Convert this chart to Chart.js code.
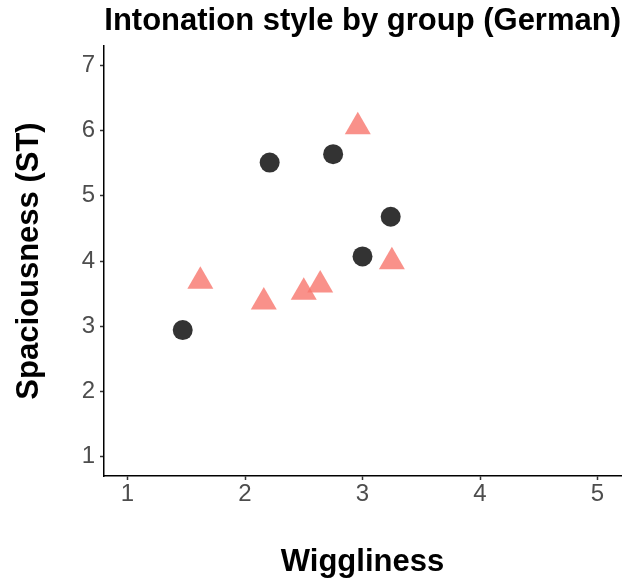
<!DOCTYPE html>
<html>
<head>
<meta charset="utf-8">
<script src="https://cdn.jsdelivr.net/npm/chart.js@4"></script>
<style>
  body { margin: 0; background: #fff; }
  canvas { display: block; }
</style>
</head>
<body>
<canvas id="chart" width="628" height="581"></canvas>
<script>
    const xTicks = [1, 2, 3, 4, 5];
    const yTicks = [1, 2, 3, 4, 5, 6, 7];

    // group drawn as dark circles
    const circleX = [1.47, 2.21, 2.75, 3.24, 3.00];
    const circleY = [2.94, 5.51, 5.64, 4.68, 4.07];

    // group drawn as salmon triangles
    const triX = [1.62, 2.16, 2.50, 2.64, 2.96, 3.25];
    const triY = [3.69, 3.37, 3.52, 3.63, 6.06, 3.99];

    const FONT = "'Liberation Sans', Arial, sans-serif";

    function toPoints(xs, ys) {
        return xs.map(function (x, i) { return { x: x, y: ys[i] }; });
    }

    new Chart(document.getElementById('chart'), {
        type: 'scatter',
        data: {
            datasets: [{
                label: 'Group 1',
                data: toPoints(circleX, circleY),
                pointStyle: 'circle',
                pointRadius: 10,
                pointHoverRadius: 10,
                borderWidth: 0,
                backgroundColor: 'rgba(0, 0, 0, 0.8)'
            }, {
                label: 'Group 2',
                data: toPoints(triX, triY),
                pointStyle: 'triangle',
                pointRadius: 15,
                pointHoverRadius: 15,
                borderWidth: 0,
                backgroundColor: 'rgba(248, 118, 109, 0.8)'
            }]
        },
        options: {
            responsive: false,
            animation: false,
            layout: {
                autoPadding: false,
                padding: { left: 0, right: 7, top: 0, bottom: 0 }
            },
            plugins: {
                legend: { display: false },
                tooltip: { enabled: false },
                title: {
                    display: true,
                    text: 'Intonation style by group (German)',
                    align: 'end',
                    color: '#000',
                    font: { family: FONT, size: 31, weight: 'bold', lineHeight: 1.2 },
                    padding: { top: 2.4, bottom: 6.4 }
                }
            },
            scales: {
                x: {
                    type: 'linear',
                    min: 0.8,
                    max: 5.2,
                    afterBuildTicks: function (scale) {
                        scale.ticks = xTicks.map(function (v) { return { value: v }; });
                    },
                    afterFit: function (scale) {
                        scale.height = 105;
                        scale.paddingLeft = 0;
                        scale.paddingRight = 0;
                    },
                    ticks: {
                        color: '#4d4d4d',
                        padding: 0,
                        font: { family: FONT, size: 24, lineHeight: 1.2 }
                    },
                    grid: {
                        drawOnChartArea: false,
                        drawTicks: true,
                        tickLength: 4,
                        tickColor: '#333',
                        tickWidth: 1.5
                    },
                    border: { display: true, color: '#000', width: 1.5 },
                    title: {
                        display: true,
                        text: 'Wiggliness',
                        color: '#000',
                        font: { family: FONT, size: 31, weight: 'bold', lineHeight: 1.2 },
                        padding: { top: 0, bottom: 0.4 }
                    }
                },
                y: {
                    type: 'linear',
                    min: 0.7,
                    max: 7.3,
                    afterBuildTicks: function (scale) {
                        scale.ticks = yTicks.map(function (v) { return { value: v }; });
                    },
                    afterFit: function (scale) {
                        scale.width = 104;
                        scale.paddingTop = 0;
                        scale.paddingBottom = 0;
                    },
                    ticks: {
                        color: '#4d4d4d',
                        padding: 5,
                        font: { family: FONT, size: 24, lineHeight: 1.2 }
                    },
                    grid: {
                        drawOnChartArea: false,
                        drawTicks: true,
                        tickLength: 4,
                        tickColor: '#333',
                        tickWidth: 1.5
                    },
                    border: { display: true, color: '#000', width: 1.5 },
                    title: {
                        display: true,
                        text: 'Spaciousness (ST)',
                        color: '#000',
                        font: { family: FONT, size: 31, weight: 'bold', lineHeight: 1.2 },
                        padding: { top: 10.5, bottom: 0 }
                    }
                }
            }
        }
    });
</script>
</body>
</html>
